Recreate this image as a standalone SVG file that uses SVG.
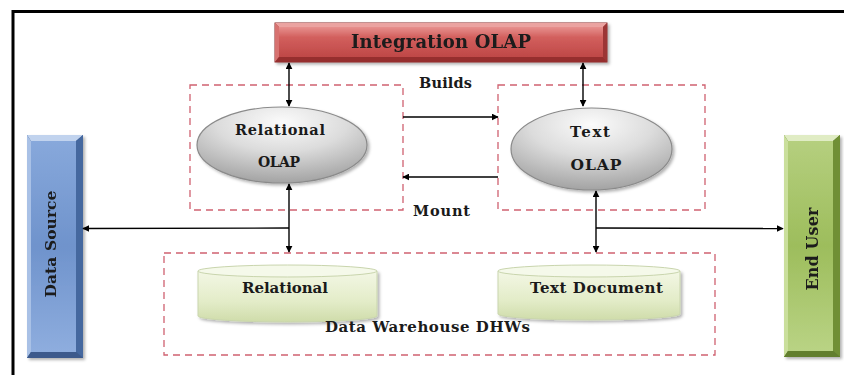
<svg xmlns="http://www.w3.org/2000/svg" width="844" height="375" viewBox="0 0 844 375">
  <defs>
    <style>
      .lbl { font-family: "DejaVu Serif", "Liberation Serif", serif; font-weight: bold; fill: #1a1a1a; }
      .dash { fill: none; stroke: #cf6170; stroke-width: 1.3; stroke-dasharray: 7 5; }
      .conn { fill: none; stroke: #000; stroke-width: 1.4; }
      .ell { stroke: #8a8a8a; stroke-width: 1.2; }
      .cyl { stroke: #c9d5ad; stroke-width: 1; }
    </style>
    <marker id="ah" viewBox="0 0 10 10" refX="9" refY="5" markerWidth="7" markerHeight="7" orient="auto-start-reverse" markerUnits="userSpaceOnUse">
      <path d="M0,0 L10,5 L0,10 Z" fill="#000"/>
    </marker>
    <linearGradient id="redFace" x1="0" y1="0" x2="0" y2="1">
      <stop offset="0" stop-color="#e7908e"/>
      <stop offset="0.35" stop-color="#d25f5d"/>
      <stop offset="1" stop-color="#bf4847"/>
    </linearGradient>
    <linearGradient id="blueFace" x1="0" y1="0" x2="0" y2="1">
      <stop offset="0" stop-color="#87a8db"/>
      <stop offset="0.5" stop-color="#6f93cc"/>
      <stop offset="1" stop-color="#8eadde"/>
    </linearGradient>
    <linearGradient id="greenFace" x1="0" y1="0" x2="0" y2="1">
      <stop offset="0" stop-color="#b5cf7e"/>
      <stop offset="0.5" stop-color="#9dbd5c"/>
      <stop offset="1" stop-color="#b9d384"/>
    </linearGradient>
    <radialGradient id="grayEll" cx="0.5" cy="0.2" r="0.85">
      <stop offset="0" stop-color="#fbfbfb"/>
      <stop offset="0.45" stop-color="#dcdcdc"/>
      <stop offset="1" stop-color="#9c9c9c"/>
    </radialGradient>
    <linearGradient id="cylBody" x1="0" y1="0" x2="0" y2="1">
      <stop offset="0" stop-color="#f3f7e5"/>
      <stop offset="0.6" stop-color="#e3ecc8"/>
      <stop offset="1" stop-color="#cfdcaa"/>
    </linearGradient>
    <filter id="shadow" x="-10%" y="-10%" width="130%" height="140%">
      <feDropShadow dx="2" dy="2" stdDeviation="1.5" flood-color="#000" flood-opacity="0.3"/>
    </filter>
  </defs>

  <rect width="844" height="375" fill="#fff"/>
  <!-- outer frame -->
  <path d="M13,380 L13,11.5 L850,11.5" fill="none" stroke="#000" stroke-width="3"/>

  <!-- dashed grouping frames -->
  <g id="frames">
    <rect class="dash" x="190" y="85" width="213" height="125"/>
    <rect class="dash" x="498" y="85" width="207" height="125"/>
    <rect class="dash" x="164" y="253" width="551" height="102"/>
  </g>

  <!-- Integration OLAP -->
  <g id="integration-olap" filter="url(#shadow)">
    <rect x="275" y="23" width="332" height="39" fill="#a8403f" stroke="#8a2e2e" stroke-width="1"/>
    <polygon points="275,23 607,23 603,27 279,27" fill="#eba3a1"/>
    <polygon points="275,23 279,27 279,57 275,62" fill="#d77270"/>
    <polygon points="607,23 607,62 603,57 603,27" fill="#9c3635"/>
    <polygon points="275,62 279,57 603,57 607,62" fill="#962f2f"/>
    <rect x="279" y="27" width="324" height="30" fill="url(#redFace)"/>
    <text class="lbl" x="441" y="48" font-size="18" text-anchor="middle" textLength="180">Integration OLAP</text>
  </g>

  <!-- Data Source -->
  <g id="data-source" filter="url(#shadow)">
    <rect x="27" y="135" width="56" height="223" fill="#3f5f94"/>
    <polygon points="27,135 83,135 76,141 31,141" fill="#c1d3ee"/>
    <polygon points="27,135 31,141 31,352 27,358" fill="#a9c1e6"/>
    <polygon points="83,135 83,358 76,352 76,141" fill="#44679f"/>
    <polygon points="27,358 31,352 76,352 83,358" fill="#3c5a8c"/>
    <rect x="31" y="141" width="45" height="211" fill="url(#blueFace)"/>
    <text class="lbl" transform="translate(56,244) rotate(-90)" font-size="15.5" text-anchor="middle" textLength="107">Data Source</text>
  </g>

  <!-- End User -->
  <g id="end-user" filter="url(#shadow)">
    <rect x="784" y="135" width="56" height="222" fill="#5f7a2c"/>
    <polygon points="784,135 840,135 833,141 788,141" fill="#e0ecc4"/>
    <polygon points="784,135 788,141 788,351 784,357" fill="#cadf9c"/>
    <polygon points="840,135 840,357 833,351 833,141" fill="#6f8f36"/>
    <polygon points="784,357 788,351 833,351 840,357" fill="#627f2e"/>
    <rect x="788" y="141" width="45" height="210" fill="url(#greenFace)"/>
    <text class="lbl" transform="translate(818,249) rotate(-90)" font-size="16" text-anchor="middle" textLength="83">End User</text>
  </g>

  <!-- Relational OLAP -->
  <g id="relational-olap">
    <ellipse class="ell" cx="282" cy="145" rx="85" ry="38" fill="url(#grayEll)" filter="url(#shadow)"/>
    <text class="lbl" x="280" y="135" font-size="14.5" text-anchor="middle" textLength="90">Relational</text>
    <text class="lbl" x="279" y="167" font-size="14" text-anchor="middle" textLength="42">OLAP</text>
  </g>

  <!-- Text OLAP -->
  <g id="text-olap">
    <ellipse class="ell" cx="591.5" cy="149" rx="80.5" ry="41" fill="url(#grayEll)" filter="url(#shadow)"/>
    <text class="lbl" x="590" y="137" font-size="15" text-anchor="middle" textLength="40">Text</text>
    <text class="lbl" x="596" y="170" font-size="15.5" text-anchor="middle" textLength="51">OLAP</text>
  </g>

  <!-- Relational store -->
  <g id="relational-store">
    <path class="cyl" d="M198,271 L198,316 A89.5,6 0 0 0 377,316 L377,271 Z" fill="url(#cylBody)" filter="url(#shadow)"/>
    <ellipse class="cyl" cx="287.5" cy="271" rx="89.5" ry="6" fill="#f5f9ea"/>
    <text class="lbl" x="285" y="293" font-size="15" text-anchor="middle" textLength="86">Relational</text>
  </g>

  <!-- Text Document store -->
  <g id="text-document-store">
    <path class="cyl" d="M498,271 L498,314 A91,6 0 0 0 680,314 L680,271 Z" fill="url(#cylBody)" filter="url(#shadow)"/>
    <ellipse class="cyl" cx="589" cy="271" rx="91" ry="6" fill="#f5f9ea"/>
    <text class="lbl" x="596.5" y="293" font-size="15" text-anchor="middle" textLength="133">Text Document</text>
  </g>

  <!-- free labels -->
  <g id="labels">
    <text class="lbl" x="445.5" y="88" font-size="14.5" text-anchor="middle" textLength="53">Builds</text>
    <text class="lbl" x="441.5" y="216" font-size="14.5" text-anchor="middle" textLength="57">Mount</text>
    <text class="lbl" x="427.5" y="332" font-size="15" text-anchor="middle" textLength="205">Data Warehouse DHWs</text>
  </g>

  <!-- connectors -->
  <g id="connectors">
    <line class="conn" x1="289" y1="63" x2="289" y2="106" marker-start="url(#ah)" marker-end="url(#ah)"/>
    <line class="conn" x1="583" y1="63" x2="583" y2="106" marker-start="url(#ah)" marker-end="url(#ah)"/>
    <line class="conn" x1="403" y1="117" x2="498" y2="117" marker-end="url(#ah)"/>
    <line class="conn" x1="498" y1="177" x2="403" y2="177" marker-end="url(#ah)"/>
    <line class="conn" x1="289" y1="184" x2="289" y2="252" marker-start="url(#ah)" marker-end="url(#ah)"/>
    <line class="conn" x1="289" y1="228" x2="83" y2="228.5" marker-end="url(#ah)"/>
    <line class="conn" x1="596" y1="191" x2="596" y2="252" marker-start="url(#ah)" marker-end="url(#ah)"/>
    <line class="conn" x1="596" y1="228" x2="783" y2="228.5" marker-end="url(#ah)"/>
  </g>
</svg>
